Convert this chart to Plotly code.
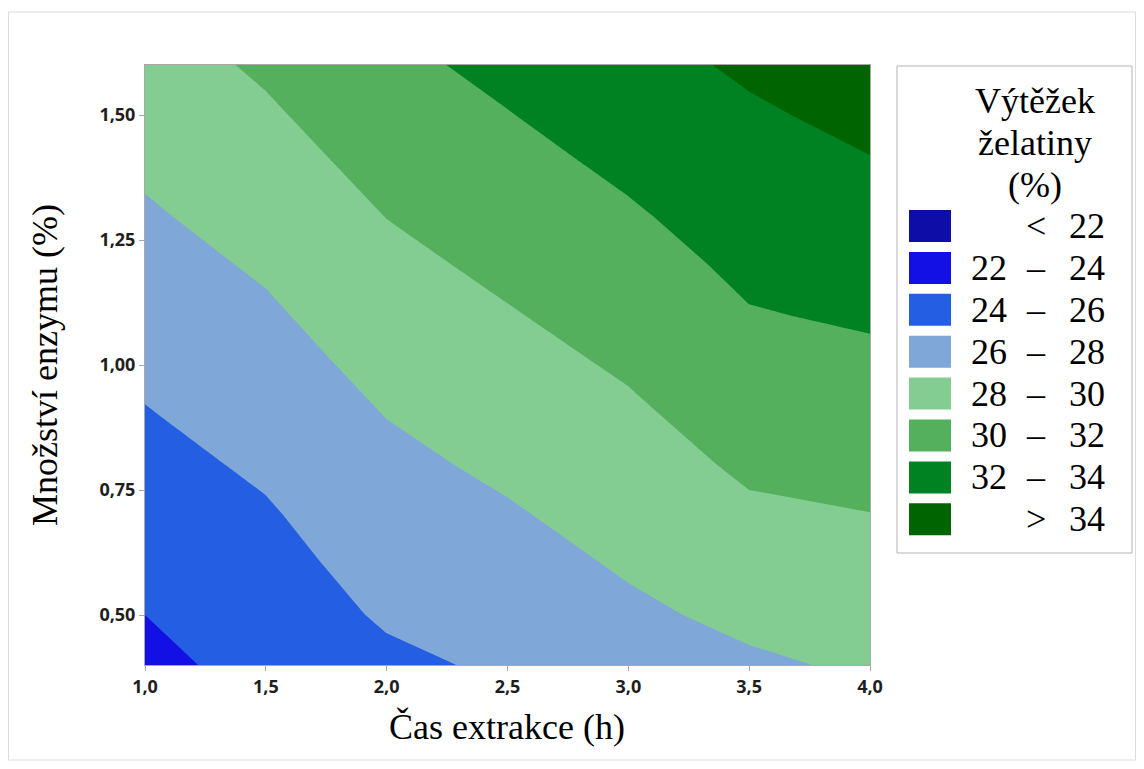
import plotly.graph_objects as go

# ---------------- data ----------------
x_time = [1.0, 1.5, 2.0, 2.5, 3.0, 3.5, 4.0]            # Čas extrakce (h)
y_enzyme = [0.4, 0.5, 0.6, 0.7, 0.8, 0.9, 1.0, 1.1, 1.2, 1.3, 1.4, 1.5, 1.6]  # Množství enzymu (%)

# yield (%) estimated at each (y row, x column)
z_yield = [
    [23.53, 24.60, 25.62, 26.28, 27.17, 27.74, 28.24],
    [24.00, 24.97, 26.22, 26.79, 27.68, 28.39, 28.82],
    [24.47, 25.38, 26.69, 27.31, 28.18, 29.05, 29.40],
    [24.95, 25.81, 27.14, 27.82, 28.69, 29.71, 29.97],
    [25.42, 26.29, 27.58, 28.33, 29.19, 30.29, 30.53],
    [25.90, 26.78, 28.04, 28.85, 29.70, 30.83, 31.09],
    [26.37, 27.26, 28.54, 29.36, 30.22, 31.36, 31.65],
    [26.85, 27.74, 29.04, 29.88, 30.74, 31.90, 32.21],
    [27.32, 28.23, 29.54, 30.39, 31.27, 32.37, 32.77],
    [27.80, 28.74, 30.04, 30.91, 31.80, 32.83, 33.33],
    [28.27, 29.25, 30.55, 31.42, 32.33, 33.29, 33.89],
    [28.75, 29.76, 31.05, 31.94, 32.86, 33.76, 34.45],
    [29.22, 30.26, 31.56, 32.45, 33.38, 34.27, 35.01],
]

level_start, level_end, level_step = 22, 34, 2
band_colors = ["#0E0DA8", "#1210E4", "#245EE2", "#7FA7D8",
               "#83CD92", "#54B05C", "#008222", "#006400"]
legend_rows = [("", "<", "22"), ("22", "–", "24"), ("24", "–", "26"),
               ("26", "–", "28"), ("28", "–", "30"), ("30", "–", "32"),
               ("32", "–", "34"), ("", ">", "34")]
legend_title = ["Výtěžek", "želatiny", "(%)"]
x_ticks = [1.0, 1.5, 2.0, 2.5, 3.0, 3.5, 4.0]
y_ticks = [0.50, 0.75, 1.00, 1.25, 1.50]

# ---------------- layout geometry (screen pixels; page has an 8px body margin) ----------------
OFF = 8
W, H = 1144 - 2 * OFF, 769 - 2 * OFF
L, R, T, B = 145, 870, 65, 665  # plot area in screen pixels


def px(x):
    return (x - L) / (R - L)


def py(y):
    return (B - y) / (B - T)


n = len(band_colors) - 1
colorscale = [[i / n, c] for i, c in enumerate(band_colors)]

fig = go.Figure()
fig.add_trace(go.Contour(
    x=x_time, y=y_enzyme, z=z_yield,
    autocontour=False,
    contours=dict(start=level_start, end=level_end, size=level_step,
                  coloring="fill", showlines=False),
    line=dict(width=0, smoothing=0),
    colorscale=colorscale,
    showscale=False,
    hoverinfo="skip",
))

serif = "Liberation Serif"
FS = 36
annotations = []
shapes = []

# outer frame of the picture
shapes.append(dict(type="rect", xref="paper", yref="paper",
                   x0=px(8.5), x1=px(1135.5), y0=py(760), y1=py(12),
                   line=dict(color="#dcdcdc", width=1), layer="below"))

# legend box
shapes.append(dict(type="rect", xref="paper", yref="paper",
                   x0=px(897), x1=px(1132), y0=py(553), y1=py(66),
                   line=dict(color="#b4b4b4", width=1)))

for i, line in enumerate(legend_title):
    annotations.append(dict(xref="paper", yref="paper", x=px(1035), y=py(101 + 42 * i),
                            text=line, showarrow=False, xanchor="center", yanchor="middle",
                            font=dict(family=serif, size=FS, color="black")))

row0, row_gap = 226, 41.9
for i, (lo, sym, hi) in enumerate(legend_rows):
    cy = row0 + row_gap * i
    shapes.append(dict(type="rect", xref="paper", yref="paper",
                       x0=px(909), x1=px(951), y0=py(cy + 16), y1=py(cy - 16),
                       fillcolor=band_colors[i], line=dict(width=0)))
    if lo:
        annotations.append(dict(xref="paper", yref="paper", x=px(1009), y=py(cy),
                                text=lo, showarrow=False, xanchor="right", yanchor="middle",
                                font=dict(family=serif, size=FS, color="black")))
    annotations.append(dict(xref="paper", yref="paper", x=px(1036), y=py(cy),
                            text=sym, showarrow=False, xanchor="center", yanchor="middle",
                            font=dict(family=serif, size=FS, color="black")))
    annotations.append(dict(xref="paper", yref="paper", x=px(1107), y=py(cy),
                            text=hi, showarrow=False, xanchor="right", yanchor="middle",
                            font=dict(family=serif, size=FS, color="black")))

# axis titles
annotations.append(dict(xref="paper", yref="paper", x=px(507), y=py(727),
                        text="Čas extrakce (h)", showarrow=False,
                        xanchor="center", yanchor="middle",
                        font=dict(family=serif, size=FS, color="black")))
annotations.append(dict(xref="paper", yref="paper", x=px(45), y=py(365),
                        text="Množství enzymu (%)", showarrow=False, textangle=-90,
                        xanchor="center", yanchor="middle",
                        font=dict(family=serif, size=FS, color="black")))

tickfont = dict(family="Open Sans", size=18, color="#1e1e1e", weight="bold")
axis_common = dict(showgrid=False, zeroline=False, showline=True, mirror=True,
                   linecolor="#a8a8a8", linewidth=1, ticks="outside", ticklen=5,
                   tickcolor="#a8a8a8", tickfont=tickfont)

fig.update_layout(
    width=W, height=H,
    margin=dict(l=L - OFF, r=(W + OFF) - R, t=T - OFF, b=(H + OFF) - B, autoexpand=False),
    paper_bgcolor="white", plot_bgcolor="white",
    separators=", ",
    showlegend=False,
    xaxis=dict(range=[1.0, 4.0], tickvals=x_ticks, tickformat=".1f", **axis_common),
    yaxis=dict(range=[0.4, 1.6], tickvals=y_ticks, tickformat=".2f", **axis_common),
    annotations=annotations,
    shapes=shapes,
)

fig.write_html("out.html")
